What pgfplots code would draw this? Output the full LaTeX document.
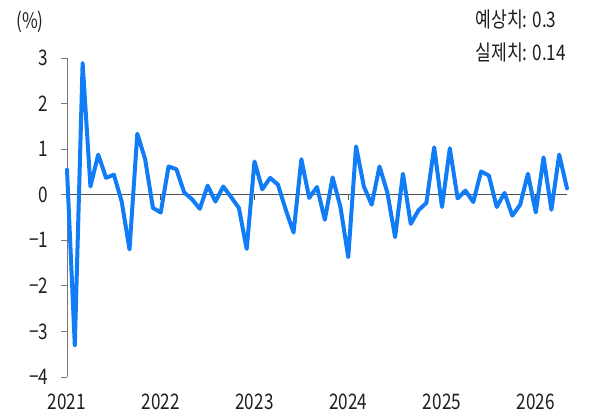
\documentclass[border=0pt]{standalone}
\usepackage{pgfplots}
\pgfplotsset{compat=1.18}
\usepackage{fontspec}
\setmainfont{Noto Sans CJK KR}[FakeStretch=0.8]

\definecolor{lineblue}{RGB}{16,124,245}
\definecolor{axgray}{RGB}{120,120,120}
\definecolor{zerogray}{RGB}{80,80,80}
\definecolor{txt}{RGB}{30,30,30}

% month index (0 = Jan 2021), value in %
\pgfplotstableread{
m v
0 0.55
1 -3.31
2 2.89
3 0.18
4 0.88
5 0.37
6 0.44
7 -0.15
8 -1.20
9 1.34
10 0.78
11 -0.29
12 -0.39
13 0.62
14 0.56
15 0.05
16 -0.10
17 -0.31
18 0.20
19 -0.15
20 0.18
21 -0.05
22 -0.29
23 -1.19
24 0.73
25 0.12
26 0.37
27 0.22
28 -0.33
29 -0.83
30 0.78
31 -0.07
32 0.17
33 -0.55
34 0.38
35 -0.27
36 -1.37
37 1.06
38 0.18
39 -0.22
40 0.62
41 0.05
42 -0.93
43 0.46
44 -0.64
45 -0.34
46 -0.18
47 1.04
48 -0.27
49 1.02
50 -0.08
51 0.09
52 -0.16
53 0.51
54 0.42
55 -0.27
56 0.04
57 -0.46
58 -0.22
59 0.46
60 -0.39
61 0.82
62 -0.33
63 0.88
64 0.14
}\cpidata

\begin{document}
\begin{tikzpicture}
\useasboundingbox (-67bp,-37bp) rectangle (528bp,377bp);
\begin{axis}[
    at={(0,0)}, anchor=south west,
    scale only axis,
    width=500bp, height=319bp,
    xmin=0, xmax=64, ymin=-4, ymax=3,
    enlargelimits=false,
    clip=false,
    axis x line*=bottom,
    axis y line*=left,
    axis line style={-},
    x axis line style={draw=none},
    y axis line style={axgray, line width=0.9bp},
    xtick={0,12,24,36,48,60},
    xticklabels={2021,2022,2023,2024,2025,2026},
    xtick style={draw=none},
    ytick={-4,-3,-2,-1,0,1,2,3},
    yticklabels={−4,−3,−2,−1,0,1,2,3},
    ytick style={axgray, line width=0.9bp},
    tick align=outside,
    major tick length=6bp,
    tick label style={font=\fontsize{21.5}{25}\selectfont, text=txt},
    yticklabel style={xshift=-9bp},
    xticklabel style={yshift=-10bp, inner sep=1bp},
]
\draw[zerogray, line width=1.1bp] (axis cs:0,0) -- (axis cs:64,0);
\pgfplotsinvokeforeach{12,24,36,48,60}{
  \draw[zerogray, line width=1bp] (axis cs:#1,0) -- ([yshift=-5bp]axis cs:#1,0);
}
\addplot[lineblue, line width=4bp, line join=round, line cap=round, no markers]
  table[x=m, y=v] {\cpidata};
\end{axis}
\node[text=txt, font=\fontsize{21.5}{25}\selectfont] at (-37bp,355bp) {(\%)};
\node[text=txt, anchor=west, font=\fontsize{21.5}{25}\selectfont] at (405bp,358bp) {예상치: 0.3};
\node[text=txt, anchor=west, font=\fontsize{21.5}{25}\selectfont] at (405bp,325bp) {실제치: 0.14};
\end{tikzpicture}
\end{document}
